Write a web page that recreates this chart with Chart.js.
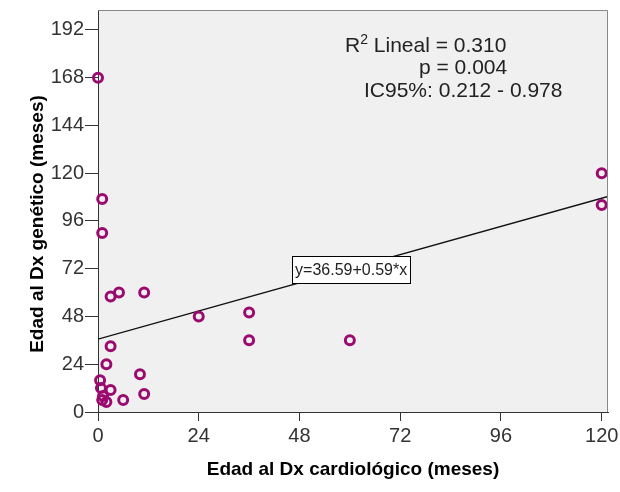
<!DOCTYPE html>
<html>
<head>
<meta charset="utf-8">
<script src="https://cdn.jsdelivr.net/npm/chart.js@4.4.1/dist/chart.umd.min.js"></script>
<style>
  html, body { margin: 0; padding: 0; background: #fff; }
  #wrap { width: 620px; height: 492px; }
</style>
</head>
<body>
<div id="wrap"><canvas id="c"></canvas></div>
<script>
// edad al diagnostico cardiologico (x) vs genetico (y), meses
const cardioX  = [0, 1, 1, 3, 5, 11, 24, 36, 36, 60, 120, 120, 3, 2, 10, 11, 6, 3, 0.5, 0.7, 1.2, 1, 2];
const geneticY = [168, 107, 90, 58, 60, 60, 48, 50, 36, 36, 120, 104, 33, 24, 19, 9, 6, 11, 16, 12, 8, 6, 5];
const xTicks = [0, 24, 48, 72, 96, 120];
const yTicks = [0, 24, 48, 72, 96, 120, 144, 168, 192];
const intercept = 36.59, slope = 0.59;
const eqLabel = "y=36.59+0.59*x";
const eqAt = { x: 60.3, y: 71.5 };
const r2Text = "0.310", pText = "p = 0.004", ciText = "IC95%: 0.212 - 0.978";
const xMax = 121.5, yMax = 202;

const FONT = "'Liberation Sans', Arial, sans-serif";
const el = id => document.getElementById(id);

const points = cardioX.map((x, i) => ({ x, y: geneticY[i] }));
const fitLine = [0, xMax].map(x => ({ x, y: intercept + slope * x }));

const spssFrame = {
  id: "spssFrame",
  beforeDraw(chart) {
    const { ctx, chartArea: a } = chart;
    ctx.save();
    ctx.fillStyle = "#f0f0f0";
    ctx.fillRect(a.left, a.top, a.right - a.left, a.bottom - a.top);
    ctx.restore();
  },
  afterDraw(chart) {
    const { ctx, chartArea: a, scales } = chart;
    ctx.save();
    // top / right border
    ctx.strokeStyle = "#888";
    ctx.lineWidth = 1;
    ctx.beginPath();
    ctx.moveTo(a.left, a.top + 0.5);
    ctx.lineTo(a.right - 0.5, a.top + 0.5);
    ctx.lineTo(a.right - 0.5, a.bottom);
    ctx.stroke();

    // equation box
    ctx.font = "16px " + FONT;
    const ex = scales.x.getPixelForValue(eqAt.x);
    const ey = scales.y.getPixelForValue(eqAt.y);
    const w = ctx.measureText(eqLabel).width + 6;
    const h = 27;
    ctx.fillStyle = "#fff";
    ctx.fillRect(ex - w / 2, ey - h / 2, w, h);
    ctx.strokeStyle = "#000";
    ctx.strokeRect(Math.round(ex - w / 2) + 0.5, Math.round(ey - h / 2) + 0.5, Math.round(w), h);
    ctx.fillStyle = "#222";
    ctx.textAlign = "center";
    ctx.textBaseline = "middle";
    ctx.fillText(eqLabel, ex, ey + 1);

    // stats text
    ctx.textAlign = "left";
    ctx.textBaseline = "alphabetic";
    ctx.font = "21px " + FONT;
    let tx = 345;
    ctx.fillText("R", tx, 52);
    tx += ctx.measureText("R").width;
    ctx.font = "14px " + FONT;
    ctx.fillText("2", tx, 44);
    tx += ctx.measureText("2").width;
    ctx.font = "21px " + FONT;
    ctx.fillText(" Lineal = " + r2Text, tx, 52);
    ctx.fillText(pText, 419, 74);
    ctx.fillText(ciText, 364, 97);

    // y title
    ctx.translate(38, 224);
    ctx.rotate(-Math.PI / 2);
    ctx.font = "bold 19px " + FONT;
    ctx.fillStyle = "#000";
    ctx.textAlign = "center";
    ctx.textBaseline = "middle";
    ctx.fillText("Edad al Dx genético (meses)", 0, 0);
    ctx.restore();
  }
};

new Chart(el("c"), {
  data: {
    datasets: [
      {
        type: "line",
        data: fitLine,
        borderColor: "#111",
        borderWidth: 1.4,
        pointRadius: 0,
        order: 2
      },
      {
        type: "scatter",
        data: points,
        pointStyle: "circle",
        pointRadius: 4.5,
        borderWidth: 3,
        borderColor: "#9b0a6f",
        backgroundColor: "rgba(0,0,0,0)",
        clip: false,
        order: 1
      }
    ]
  },
  options: {
    responsive: true,
    maintainAspectRatio: false,
    animation: false,
    events: [],
    layout: { padding: { top: 10, right: 12, left: 0, bottom: 0 } },
    plugins: { legend: { display: false }, tooltip: { enabled: false } },
    scales: {
      x: {
        type: "linear",
        min: 0,
        max: xMax,
        afterBuildTicks: s => { s.ticks = xTicks.map(v => ({ value: v })); },
        afterFit: s => { s.height = 80; s.paddingLeft = 0; s.paddingRight = 0; },
        grid: { drawOnChartArea: false, tickLength: 9, tickColor: "#333" },
        border: { color: "#333", width: 1 },
        ticks: { color: "#333", padding: 3, maxRotation: 0, font: { family: FONT, size: 20 } },
        title: {
          display: true,
          text: "Edad al Dx cardiológico (meses)",
          color: "#000",
          font: { family: FONT, size: 19, weight: "bold" },
          padding: { top: 0, bottom: 11 }
        }
      },
      y: {
        type: "linear",
        min: 0,
        max: yMax,
        afterBuildTicks: s => { s.ticks = yTicks.map(v => ({ value: v })); },
        afterFit: s => { s.width = 98; s.paddingTop = 0; s.paddingBottom = 0; },
        grid: { drawOnChartArea: false, tickLength: 13, tickColor: "#333" },
        border: { color: "#333", width: 1 },
        ticks: { color: "#333", padding: 1, font: { family: FONT, size: 20 } }
      }
    }
  },
  plugins: [spssFrame]
});
</script>
</body>
</html>
